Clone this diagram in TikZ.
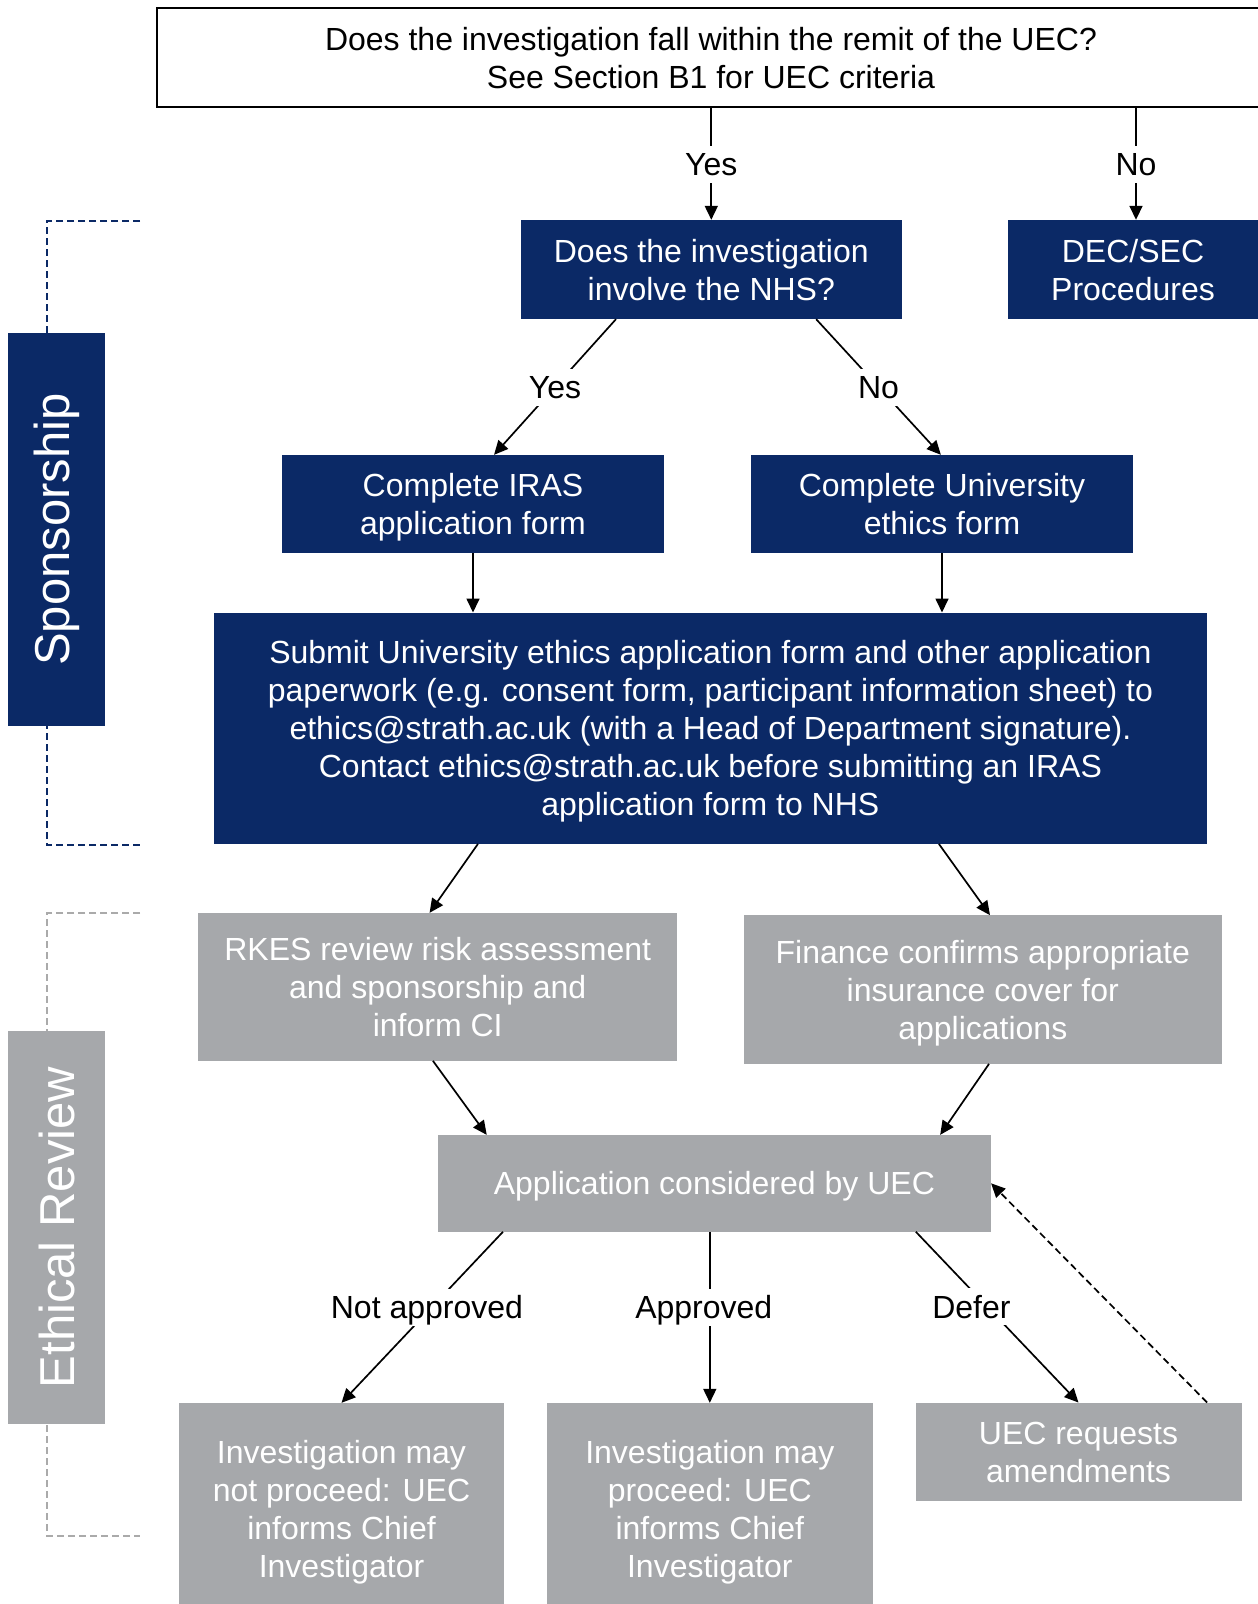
\documentclass[tikz,border=0pt]{standalone}
\usepackage{fontspec}
\setmainfont{Liberation Sans}
\usetikzlibrary{arrows.meta,calc}
\definecolor{navy}{RGB}{11,41,102}
\definecolor{boxgray}{RGB}{166,168,171}
\definecolor{brgray}{RGB}{170,170,170}
\begin{document}
\begin{tikzpicture}[x=1pt,y=-1pt,
  base/.style={font=\fontsize{32}{38}\selectfont, align=center, inner sep=0pt, anchor=center, text depth=-1pt},
  navybox/.style={base, fill=navy, text=white},
  graybox/.style={base, fill=boxgray, text=white},
  lab/.style={font=\fontsize{32}{38}\selectfont, fill=white, inner sep=7pt, text=black, text height=23pt, text depth=0pt},
  arr/.style={line width=1.7pt, -{Triangle[length=14pt,width=13pt]}},
  dasharr/.style={arr, dash pattern=on 7pt off 4pt},
  bracket/.style={line width=2pt, dash pattern=on 7pt off 4pt},
  sidelab/.style={font=\fontsize{49}{58}\selectfont, text=white, rotate=90, inner sep=0pt, anchor=center, minimum width=393pt, minimum height=97pt}
]
\useasboundingbox (0,0) rectangle (1258,1604);
\clip (0,0) rectangle (1258,1604);
\fill[white] (0,0) rectangle (1258,1604);

% brackets
\draw[bracket, navy] (140,221) -- (47,221) -- (47,845) -- (140,845);
\draw[bracket, brgray, line width=1.6pt] (140,913) -- (47,913) -- (47,1536) -- (140,1536);

% side labels
\node[sidelab, fill=navy] (spons) at (56.5,529.5) {Sponsorship};
\node[sidelab, fill=boxgray] (ethic) at (56.5,1227.5) {Ethical Review};

% nodes
\node[base, draw=black, line width=2pt, fill=white, minimum width=1108pt, minimum height=99pt] (top) at (711,57.7)
  {Does the investigation fall within the remit of the UEC?\\See Section B1 for UEC criteria};
\node[navybox, minimum width=381pt, minimum height=99pt] (nhs) at (711.3,269.5)
  {Does the investigation\\involve the NHS?};
\node[navybox, minimum width=251pt, minimum height=99pt] (dec) at (1133,269.5)
  {DEC/SEC\\Procedures};
\node[navybox, minimum width=382pt, minimum height=98pt] (iras) at (473,504)
  {Complete IRAS\\application form};
\node[navybox, minimum width=382pt, minimum height=98pt] (univ) at (942,504)
  {Complete University\\ethics form};
\node[navybox, minimum width=993pt, minimum height=231pt] (submit) at (710.4,728.2)
  {Submit University ethics application form and other application\\
   paperwork (e.g. consent form, participant information sheet) to\\
   ethics@strath.ac.uk (with a Head of Department signature).\\
   Contact ethics@strath.ac.uk before submitting an IRAS\\
   application form to NHS};
\node[graybox, minimum width=478.6pt, minimum height=147.6pt] (rkes) at (437.7,986.8)
  {RKES review risk assessment\\and sponsorship and\\inform CI};
\node[graybox, minimum width=478.4pt, minimum height=148.3pt] (fin) at (982.8,989.5)
  {Finance confirms appropriate\\insurance cover for\\applications};
\node[graybox, minimum width=553pt, minimum height=96.5pt] (app) at (714.4,1183.3)
  {Application considered by UEC};
\node[graybox, minimum width=325pt, minimum height=212pt] (notp) at (341.5,1509)
  {Investigation may\\not proceed: UEC\\informs Chief\\Investigator};
\node[graybox, minimum width=325.5pt, minimum height=212pt] (proc) at (709.8,1509)
  {Investigation may\\proceed: UEC\\informs Chief\\Investigator};
\node[graybox, minimum width=326pt, minimum height=98.5pt] (amend) at (1078.5,1452)
  {UEC requests\\amendments};

% connectors
\draw[arr] (top.south -| nhs.north) -- node[lab, pos=0.5] {Yes} (nhs.north);
\draw[arr] ([xshift=3pt]dec.north |- top.south) -- node[lab, pos=0.5] {No} ([xshift=3pt]dec.north);

\draw[arr] ($(nhs.south west)!0.25!(nhs.south east)$) -- node[lab, pos=0.5] {Yes}
  ($(iras.north west)!0.555!(iras.north east)$);
\draw[arr] ($(nhs.south west)!0.775!(nhs.south east)$) -- node[lab, pos=0.5] {No}
  ($(univ.north west)!0.497!(univ.north east)$);

\draw[arr] (iras.south) -- (iras.south |- submit.north);
\draw[arr] (univ.south) -- (univ.south |- submit.north);

\draw[arr] ($(submit.south west)!0.266!(submit.south east)$) -- ($(rkes.north west)!0.483!(rkes.north east)$);
\draw[arr] ($(submit.south west)!0.730!(submit.south east)$) -- ($(fin.north west)!0.515!(fin.north east)$);

\draw[arr] ($(rkes.south west)!0.49!(rkes.south east)$) -- ($(app.north west)!0.0886!(app.north east)$);
\draw[arr] ($(fin.south west)!0.513!(fin.south east)$) -- ($(app.north west)!0.908!(app.north east)$);

\draw[arr] ($(app.south west)!0.118!(app.south east)$) -- node[lab, pos=0.44, xshift=-5pt] {Not approved} (notp.north);
\draw[arr] (app.south -| proc.north) -- node[lab, pos=0.44, xshift=-6pt] {Approved} (proc.north);
\draw[arr] ($(app.south west)!0.864!(app.south east)$) -- node[lab, pos=0.44, xshift=-16pt] {Defer} (amend.north);

\draw[dasharr] ($(amend.north west)!0.894!(amend.north east)$) -- (app.east);
\end{tikzpicture}
\end{document}
